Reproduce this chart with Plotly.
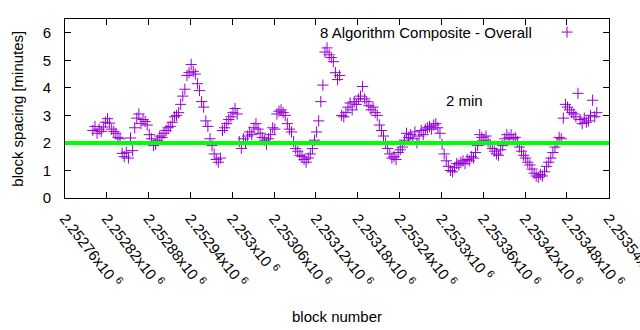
import plotly.graph_objects as go

# Block heights (every third block) and the composite spacing in minutes
first_block = 2252800
block_step = 3
spacing_minutes = [
    2.45, 2.60, 2.35, 2.50, 2.42, 2.58, 2.75, 2.88, 2.72, 2.50,
    2.42, 2.35, 2.20, 2.15, 1.62, 1.50, 1.66, 1.45, 2.18, 1.72,
    2.55, 2.90, 3.05, 2.70, 2.85, 2.78, 2.65, 2.30, 2.15, 1.90,
    1.95, 2.10, 2.25, 2.20, 2.35, 2.45, 2.55, 2.60, 2.75, 2.95,
    3.00, 3.10, 3.40, 3.70, 3.95, 4.45, 4.55, 4.85, 4.60, 4.50,
    4.15, 3.90, 3.50, 3.30, 2.80, 2.60, 2.15, 1.90, 1.60, 1.40,
    1.30, 1.45, 2.45, 2.55, 2.70, 2.85, 2.95, 3.10, 3.25, 3.05,
    2.05, 1.80, 2.15, 2.00, 2.25, 2.40, 2.30, 2.55, 2.70, 2.50,
    2.35, 2.20, 2.10, 1.95, 2.15, 2.30, 2.55, 2.50, 3.05, 3.15,
    3.20, 3.10, 3.00, 2.70, 2.50, 2.40, 2.05, 1.80, 1.70, 1.55,
    1.50, 1.40, 1.30, 1.45, 1.60, 1.80, 2.10, 2.40, 2.80, 3.50,
    4.10, 5.30, 5.45, 5.20, 5.10, 4.95, 4.55, 4.30, 4.45, 3.00,
    2.95, 3.10, 3.30, 3.45, 3.20, 3.50, 3.40, 3.60, 3.70, 4.05,
    3.60, 3.50, 3.35, 3.20, 3.30, 3.10, 3.00, 2.65, 2.45, 2.25,
    2.00, 1.80, 1.60, 1.45, 1.50, 1.40, 1.65, 1.75, 1.85, 2.10,
    2.35, 2.20, 2.30, 2.15, 2.40, 2.00, 2.25, 2.45, 2.30, 2.50,
    2.55, 2.60, 2.50, 2.65, 2.70, 2.55, 2.35, 1.95, 1.60, 1.35,
    1.15, 1.00, 0.95, 1.10, 1.25, 1.20, 1.30, 1.35, 1.25, 1.40,
    1.35, 1.50, 1.45, 1.65, 1.90, 2.30, 2.20, 2.10, 2.25, 2.05,
    1.95, 1.80, 1.70, 1.60, 1.55, 1.75, 1.90, 2.15, 2.30, 2.20,
    2.30, 2.15, 2.20, 2.05, 1.85, 1.70, 1.55, 1.45, 1.30, 1.20,
    1.05, 0.90, 0.80, 0.75, 0.85, 0.80, 0.95, 1.15, 1.30, 1.45,
    1.65, 1.85, 2.00, 2.20, 2.15, 2.90, 3.40, 3.30, 3.20, 3.10,
    3.05, 2.95, 3.80, 2.85, 2.70, 2.90, 2.75, 2.80, 3.00, 3.55,
    2.95, 3.10,
]
block_numbers = [first_block + block_step * i for i in range(len(spacing_minutes))]

target_minutes = 2

x_tick_values = [2252760 + 60 * k for k in range(14)]
x_tick_mantissa = ["2.25276", "2.25282", "2.25288", "2.25294", "2.253", "2.25306",
                   "2.25312", "2.25318", "2.25324", "2.2533", "2.25336", "2.25342",
                   "2.25348", "2.25354"]
x_tick_text = [m + "x10 <sup>6</sup>" for m in x_tick_mantissa]
y_tick_values = [0, 1, 2, 3, 4, 5, 6]

violet = "#9400d3"
font_family = "Liberation Sans, Arial, sans-serif"
font_size = 15
cross_marker = dict(symbol="cross-thin", size=8, line=dict(color=violet, width=1))

fig = go.Figure()

fig.add_trace(go.Scatter(
    x=block_numbers,
    y=spacing_minutes,
    mode="markers",
    marker=cross_marker,
    showlegend=False,
    hoverinfo="x+y",
))

# Key sample symbol, placed on a hidden unit-square overlay
fig.add_trace(go.Scatter(
    x=[0.9228], y=[0.927], xaxis="x2", yaxis="y2",
    mode="markers", marker=cross_marker, showlegend=False, hoverinfo="skip",
    cliponaxis=False,
))

# 2-minute target line
fig.add_hline(y=target_minutes, line=dict(color="#00ff00", width=4), layer="above")

axis_common = dict(
    showline=True, linecolor="black", linewidth=1, mirror="allticks",
    ticks="inside", ticklen=6, tickcolor="black", showgrid=False, zeroline=False,
    tickfont=dict(family=font_family, size=font_size, color="black"),
    automargin=False,
)

fig.update_xaxes(
    range=[x_tick_values[0], x_tick_values[-1] + 0.5],
    tickmode="array", tickvals=x_tick_values, ticktext=x_tick_text,
    tickangle=52, ticklabelstandoff=5, ticklabeloverflow="allow",
    **axis_common,
)
fig.update_yaxes(
    range=[0, 6.5],
    tickmode="array", tickvals=y_tick_values,
    ticklabelstandoff=10,
    **axis_common,
)

annotations = [
    dict(text="block spacing [minutes]", xref="paper", yref="paper",
         x=-0.088, y=0.5, xanchor="center", yanchor="middle", textangle=-90,
         showarrow=False, font=dict(family=font_family, size=font_size, color="black")),
    dict(text="block number", xref="paper", yref="paper",
         x=0.5, y=-0.66, xanchor="center", yanchor="middle",
         showarrow=False, font=dict(family=font_family, size=font_size, color="black")),
    dict(text="2 min", xref="x", yref="y",
         x=2253333, y=3.55, xanchor="center", yanchor="middle",
         showarrow=False, font=dict(family=font_family, size=font_size, color="black")),
    dict(text="8 Algorithm Composite - Overall", xref="paper", yref="paper",
         x=0.863, y=0.927, xanchor="right", yanchor="middle",
         showarrow=False, font=dict(family=font_family, size=font_size, color="black")),
]

fig.update_layout(
    width=640, height=330,
    margin=dict(l=65, r=31, t=19, b=132, autoexpand=False),
    paper_bgcolor="white", plot_bgcolor="white",
    annotations=annotations,
    showlegend=False,
    xaxis2=dict(overlaying="x", range=[0, 1], visible=False, fixedrange=True),
    yaxis2=dict(overlaying="y", range=[0, 1], visible=False, fixedrange=True),
)

fig.write_html("out.html")
